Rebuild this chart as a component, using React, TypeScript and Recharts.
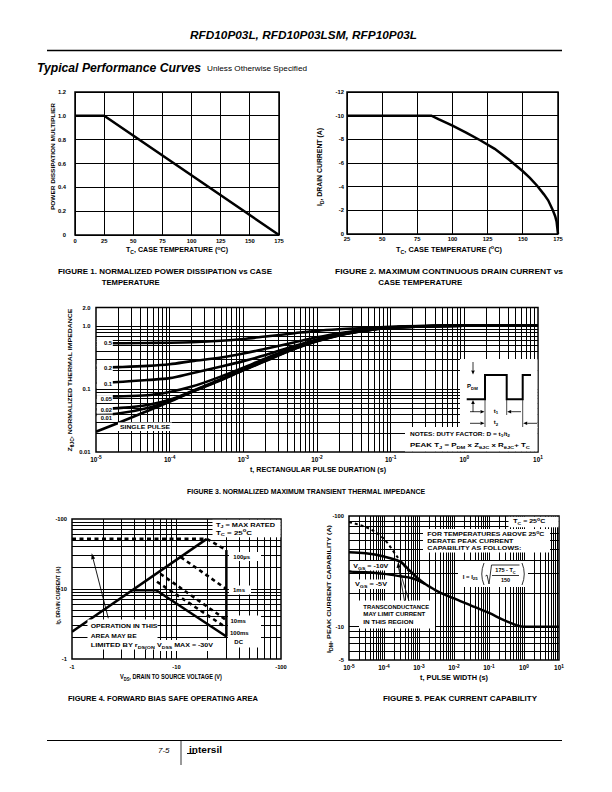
import React from 'react';
import { LineChart, Line, XAxis, YAxis, CartesianGrid, ReferenceLine, ReferenceArea } from 'recharts';

const W = 612;
const H = 792;
const FONT = '"Liberation Sans", Arial, Helvetica, sans-serif';

// ---------------- Figure 1 data ----------------
const fig1Temp = [0, 25, 175];
const fig1Multiplier = [1.0, 1.0, 0.0];
const fig1XTicks = [0, 25, 50, 75, 100, 125, 150, 175];
const fig1YTicks = [0, 0.2, 0.4, 0.6, 0.8, 1.0, 1.2];

// ---------------- Figure 2 data ----------------
const fig2Temp = [25, 85, 90, 100, 110, 120, 130, 140, 150, 155, 160, 165, 168, 171, 173, 174, 175];
const fig2Current = [-10, -10, -9.7, -9.15, -8.55, -7.9, -7.2, -6.3, -5.3, -4.75, -4.1, -3.35, -2.85, -2.1, -1.5, -1.05, 0];
const fig2XTicks = [25, 50, 75, 100, 125, 150, 175];
const fig2YTicks = [-12, -10, -8, -6, -4, -2, 0];

// ---------------- Figure 3 data ----------------
const fig3Time = [1e-5, 2e-5, 5e-5, 1e-4, 2e-4, 5e-4, 1e-3, 2e-3, 5e-3, 1e-2, 2e-2, 5e-2, 1e-1, 1, 10];
const fig3Duty05 = [0.54, 0.54, 0.545, 0.55, 0.56, 0.59, 0.63, 0.69, 0.78, 0.85, 0.9, 0.95, 0.99, 1.03, 1.04];
const fig3Duty02 = [0.22, 0.225, 0.235, 0.25, 0.28, 0.32, 0.37, 0.44, 0.56, 0.67, 0.78, 0.9, 0.97, 1.03, 1.04];
const fig3Duty01 = [0.127, 0.13, 0.14, 0.15, 0.18, 0.23, 0.28, 0.35, 0.49, 0.62, 0.75, 0.89, 0.96, 1.03, 1.04];
const fig3Duty005 = [0.076, 0.077, 0.08, 0.09, 0.11, 0.16, 0.22, 0.31, 0.46, 0.6, 0.74, 0.88, 0.96, 1.03, 1.04];
const fig3Duty002 = [0.048, 0.05, 0.056, 0.068, 0.093, 0.145, 0.205, 0.29, 0.45, 0.59, 0.73, 0.875, 0.96, 1.03, 1.04];
const fig3Duty001 = [0.039, 0.041, 0.05, 0.065, 0.091, 0.142, 0.202, 0.285, 0.445, 0.585, 0.725, 0.87, 0.955, 1.03, 1.04];
const fig3Single = [0.021, 0.029, 0.045, 0.063, 0.09, 0.14, 0.2, 0.28, 0.44, 0.58, 0.72, 0.87, 0.955, 1.03, 1.04];
const fig3XTicks = [1e-5, 1e-4, 1e-3, 1e-2, 1e-1, 1, 10];
const fig3YTicks = [0.01, 0.1, 1, 2];
const fig3YLabels = ['0.01', '0.1', '1.0', '2.0'];

// ---------------- Figure 4 data (magnitudes; axis shows negative values) ----------------
const fig4RdsV = [1, 19.5];
const fig4RdsI = [2.45, 52];
const fig4LimitV = [1, 19.5];
const fig4LimitI = [52, 52];
const fig4Us100V = [19.5, 30];
const fig4Us100I = [52, 36];
const fig4Ms1V = [11, 30];
const fig4Ms1I = [28.5, 10];
const fig4Ms10V = [7, 30];
const fig4Ms10I = [16.5, 3.6];
const fig4Ms100V = [6.5, 30];
const fig4Ms100I = [12.7, 2.8];
const fig4DcV = [3.8, 6.4, 30];
const fig4DcI = [9.6, 9.6, 2.1];
const fig4VdssV = [30, 30];
const fig4VdssI = [36, 2.1];
const fig4Ticks = [1, 10, 100];
const fig4Labels = ['-1', '-10', '-100'];

// ---------------- Figure 5 data (magnitudes) ----------------
const fig5Time10 = [1e-5, 3e-5, 1e-4, 2e-4, 3e-4, 5e-4, 1e-3, 1.5e-3, 2e-3, 3e-3, 1e-2, 3e-2, 1e-1, 3e-1, 1, 10];
const fig5Vgs10 = [47, 46, 43, 40.5, 38.5, 33, 26.8, 24.3, 23, 21.3, 18, 15.6, 13.3, 11.3, 10, 10];
const fig5Time5 = [1e-5, 3e-5, 1e-4, 3e-4, 6e-4, 1e-3, 1.5e-3];
const fig5Vgs5 = [31.5, 31, 30, 28.5, 27.5, 26, 24.3];
const fig5TransTime = [1e-5, 1e-4, 2.5e-4, 6e-4];
const fig5TransI = [88, 62, 42, 30];
const fig5XTicks = [1e-5, 1e-4, 1e-3, 1e-2, 1e-1, 1, 10];
const fig5YTicks = [5, 10, 100];
const fig5YLabels = ['-5', '-10', '-100'];

// ---------------- layout ----------------
type Plot = { l: number; t: number; r: number; b: number };
const P1: Plot = { l: 75, t: 92, r: 279, b: 235 };
const P2: Plot = { l: 347, t: 92, r: 558, b: 234 };
const P3: Plot = { l: 96, t: 307.5, r: 538, b: 452 };
const P4: Plot = { l: 72, t: 519, r: 281, b: 659 };
const P5: Plot = { l: 349, t: 516, r: 559, b: 660 };
const YW = 30;
const XH = 20;
const marginFor = (p: Plot) => ({ top: p.t, left: p.l - YW, right: W - p.r, bottom: H - p.b - XH });
const abs: React.CSSProperties = { position: 'absolute', left: 0, top: 0 };

const logGrid = (lo: number, hi: number) => {
  const out: number[] = [];
  for (let e = lo; e < hi; e++) for (let k = 1; k <= 9; k++) out.push(k * Math.pow(10, e));
  return out;
};
const fig3GridX = logGrid(-5, 1).slice(1);
const fig3GridY = logGrid(-2, 0).slice(1).concat([1]);
const fig4Grid = logGrid(0, 2).slice(1);
const fig5GridX = logGrid(-5, 1).slice(1);
const fig5GridY = [6, 7, 8, 9, 10, 20, 30, 40, 50, 60, 70, 80, 90];

const pts = (xs: number[], ys: number[]) => xs.map((x, i) => ({ x, y: ys[i] }));
const pow10 = (v: number) => `10^{${Math.round(Math.log10(v))}}`;

// ---------------- text helper ----------------
type RichProps = {
  x: number; y: number; s: string; size?: number; anchor?: 'start' | 'middle' | 'end';
  weight?: string | number; len?: number; rot?: number; sx?: number; italic?: boolean;
};
function Rich({ x, y, s, size = 6, anchor = 'start', weight = 'bold', len, rot = 0, sx = 1, italic = false }: RichProps) {
  const parts = s.split(/(_\{[^}]*\}|\^\{[^}]*\})/).filter((p) => p.length > 0);
  let shift = 0;
  const spans = parts.map((p, i) => {
    let target = 0;
    let text = p;
    let fs = size;
    if (p.startsWith('_{')) { target = size * 0.3; text = p.slice(2, -1); fs = size * 0.72; }
    else if (p.startsWith('^{')) { target = -size * 0.4; text = p.slice(2, -1); fs = size * 0.75; }
    const dy = target - shift;
    shift = target;
    return (
      <tspan key={i} dy={dy !== 0 ? dy : undefined} fontSize={fs}>{text}</tspan>
    );
  });
  return (
    <text
      transform={`translate(${x} ${y}) rotate(${rot}) scale(${sx} 1)`}
      x={0}
      y={size * 0.36}
      fontFamily={FONT}
      fontSize={size}
      fontWeight={weight}
      fontStyle={italic ? 'italic' : 'normal'}
      textAnchor={anchor}
      fill="#000"
      textLength={len}
      lengthAdjust={len ? 'spacingAndGlyphs' : undefined}
    >
      {spans}
    </text>
  );
}

const xTick = (yc: number, fmt: (v: number) => string, size = 5.8) => (props: any) => (
  <Rich x={props.x} y={yc} s={fmt(props.payload.value)} size={size} anchor="middle" />
);
const yTick = (xr: number, fmt: (v: number) => string, size = 5.8) => (props: any) => (
  <Rich x={xr} y={props.y} s={fmt(props.payload.value)} size={size} anchor="end" />
);

const lineProps = { stroke: '#000', dot: false as const, activeDot: false as const, isAnimationActive: false, dataKey: 'y' };

// ---------------- Figure 1 ----------------
function Fig1() {
  return (
    <div style={abs} className="crisp">
      <LineChart width={W} height={H} margin={marginFor(P1)}>
        <CartesianGrid stroke="#000" strokeWidth={1} />
        <XAxis type="number" dataKey="x" domain={[0, 175]} ticks={fig1XTicks} interval={0} axisLine={false} tickLine={false} height={XH} tick={xTick(240.5, (v) => String(v))} />
        <YAxis type="number" domain={[0, 1.2]} ticks={fig1YTicks} interval={0} axisLine={false} tickLine={false} width={YW} tick={yTick(66, (v) => (v === 0 ? '0' : v.toFixed(1)))} />
        <ReferenceArea x1={0} x2={175} y1={0} y2={1.2} fill="none" stroke="#000" strokeWidth={1.5} />
        <Line data={pts(fig1Temp, fig1Multiplier)} type="linear" strokeWidth={2.5} {...lineProps} />
      </LineChart>
    </div>
  );
}

// ---------------- Figure 2 ----------------
function Fig2() {
  return (
    <div style={abs} className="crisp">
      <LineChart width={W} height={H} margin={marginFor(P2)}>
        <CartesianGrid stroke="#000" strokeWidth={1} />
        <XAxis type="number" dataKey="x" domain={[25, 175]} ticks={fig2XTicks} interval={0} axisLine={false} tickLine={false} height={XH} tick={xTick(238.5, (v) => String(v))} />
        <YAxis type="number" domain={[-12, 0]} reversed ticks={fig2YTicks} interval={0} axisLine={false} tickLine={false} width={YW} tick={yTick(344, (v) => String(v))} />
        <ReferenceArea x1={25} x2={175} y1={-12} y2={0} fill="none" stroke="#000" strokeWidth={1.5} />
        <Line data={pts(fig2Temp, fig2Current)} type="linear" strokeWidth={2.5} {...lineProps} />
      </LineChart>
    </div>
  );
}

// ---------------- Figure 3 ----------------
const fig3Series = [fig3Duty05, fig3Duty02, fig3Duty01, fig3Duty005, fig3Duty002, fig3Duty001, fig3Single];
function Fig3() {
  return (
    <div style={abs} className="crisp">
      <LineChart width={W} height={H} margin={marginFor(P3)}>
        <XAxis type="number" dataKey="x" scale="log" domain={[1e-5, 10]} allowDataOverflow ticks={fig3XTicks} interval={0} axisLine={false} tickLine={false} height={XH} tick={xTick(459.5, pow10, 6.4)} />
        <YAxis type="number" scale="log" domain={[0.01, 2]} allowDataOverflow ticks={fig3YTicks} interval={0} axisLine={false} tickLine={false} width={YW} tick={yTick(90.5, (v) => fig3YLabels[fig3YTicks.indexOf(v)] ?? String(v))} />
        {fig3GridX.map((v) => (
          <ReferenceLine key={'gx' + v} x={v} stroke="#000" strokeWidth={1} />
        ))}
        {fig3GridY.map((v) => (
          <ReferenceLine key={'gy' + v} y={v} stroke="#000" strokeWidth={1} />
        ))}
        <ReferenceArea x1={1e-5} x2={10} y1={0.01} y2={2} fill="none" stroke="#000" strokeWidth={1.5} />
        {fig3Series.map((s, i) => (
          <Line key={i} data={pts(fig3Time, s)} type="monotone" strokeWidth={2.6} {...lineProps} />
        ))}
      </LineChart>
    </div>
  );
}

// ---------------- Figure 4 ----------------
function Fig4() {
  const solid = [pts(fig4RdsV, fig4RdsI), pts(fig4DcV, fig4DcI), pts(fig4VdssV, fig4VdssI)];
  const dashed = [pts(fig4LimitV, fig4LimitI), pts(fig4Us100V, fig4Us100I), pts(fig4Ms1V, fig4Ms1I), pts(fig4Ms10V, fig4Ms10I), pts(fig4Ms100V, fig4Ms100I)];
  return (
    <div style={abs} className="crisp">
      <LineChart width={W} height={H} margin={marginFor(P4)}>
        <XAxis type="number" dataKey="x" scale="log" domain={[1, 100]} allowDataOverflow ticks={fig4Ticks} interval={0} axisLine={false} tickLine={false} height={XH} tick={xTick(666.5, (v) => fig4Labels[fig4Ticks.indexOf(v)])} />
        <YAxis type="number" scale="log" domain={[1, 100]} allowDataOverflow ticks={fig4Ticks} interval={0} axisLine={false} tickLine={false} width={YW} tick={yTick(67, (v) => fig4Labels[fig4Ticks.indexOf(v)])} />
        {fig4Grid.map((v) => (
          <ReferenceLine key={'gx' + v} x={v} stroke="#000" strokeWidth={1} />
        ))}
        {fig4Grid.map((v) => (
          <ReferenceLine key={'gy' + v} y={v} stroke="#000" strokeWidth={1} />
        ))}
        <ReferenceArea x1={1} x2={100} y1={1} y2={100} fill="none" stroke="#000" strokeWidth={1.5} />
        {dashed.map((d, i) => (
          <Line key={'d' + i} data={d} type="linear" strokeWidth={2.6} strokeDasharray="4 3.5" {...lineProps} />
        ))}
        {solid.map((d, i) => (
          <Line key={'s' + i} data={d} type="linear" strokeWidth={2.5} {...lineProps} />
        ))}
      </LineChart>
    </div>
  );
}

// ---------------- Figure 5 ----------------
function Fig5() {
  return (
    <div style={abs} className="crisp">
      <LineChart width={W} height={H} margin={marginFor(P5)}>
        <XAxis type="number" dataKey="x" scale="log" domain={[1e-5, 10]} allowDataOverflow ticks={fig5XTicks} interval={0} axisLine={false} tickLine={false} height={XH} tick={xTick(668, pow10, 6.4)} />
        <YAxis type="number" scale="log" domain={[5, 100]} allowDataOverflow ticks={fig5YTicks} interval={0} axisLine={false} tickLine={false} width={YW} tick={yTick(344, (v) => fig5YLabels[fig5YTicks.indexOf(v)])} />
        {fig5GridX.map((v) => (
          <ReferenceLine key={'gx' + v} x={v} stroke="#000" strokeWidth={1} />
        ))}
        {fig5GridY.map((v) => (
          <ReferenceLine key={'gy' + v} y={v} stroke="#000" strokeWidth={1} />
        ))}
        <ReferenceArea x1={1e-5} x2={10} y1={5} y2={100} fill="none" stroke="#000" strokeWidth={1.5} />
        <Line data={pts(fig5TransTime, fig5TransI)} type="monotone" strokeWidth={2} strokeDasharray="3 3" {...lineProps} />
        <Line data={pts(fig5Time5, fig5Vgs5)} type="monotone" strokeWidth={2.5} {...lineProps} />
        <Line data={pts(fig5Time10, fig5Vgs10)} type="monotone" strokeWidth={2.5} {...lineProps} />
      </LineChart>
    </div>
  );
}

// ---------------- annotations ----------------
function Arrow({ x1, y1, x2, y2, w = 0.8, hl = 4, hw = 1.8 }: { x1: number; y1: number; x2: number; y2: number; w?: number; hl?: number; hw?: number }) {
  const dx = x2 - x1;
  const dy = y2 - y1;
  const L = Math.hypot(dx, dy);
  const ux = dx / L;
  const uy = dy / L;
  const bx = x2 - ux * hl;
  const by = y2 - uy * hl;
  const poly = `${x2},${y2} ${bx - uy * hw},${by + ux * hw} ${bx + uy * hw},${by - ux * hw}`;
  return (
    <g>
      <line x1={x1} y1={y1} x2={bx} y2={by} stroke="#000" strokeWidth={w} />
      <polygon points={poly} fill="#000" />
    </g>
  );
}

const Box = ({ x, y, w, h }: { x: number; y: number; w: number; h: number }) => (
  <rect x={x} y={y} width={w} height={h} fill="#fff" />
);

function Overlay() {
  return (
    <svg width={W} height={H} style={{ position: 'absolute', left: 0, top: 0 }}>
      {/* header */}
      <Rich x={190} y={35} s="RFD10P03L, RFD10P03LSM, RFP10P03L" size={11.5} italic len={227} />
      <line x1={47} y1={50.5} x2={562} y2={50.5} stroke="#000" strokeWidth={1.3} />
      <Rich x={37} y={68} s="Typical Performance Curves" size={12} italic len={164} />
      <Rich x={207} y={68.5} s="Unless Otherwise Specified" size={6.5} weight="normal" len={100} />

      {/* Figure 1 texts */}
      <Rich x={52.5} y={156.5} s="POWER DISSIPATION MULTIPLIER" size={6.2} rot={-90} anchor="middle" len={107} />
      <Rich x={126} y={250} s="T_{C}, CASE TEMPERATURE (^{o}C)" size={6.5} len={102} />
      <Rich x={58} y={271} s="FIGURE 1.  NORMALIZED POWER DISSIPATION vs CASE" size={8} len={214} />
      <Rich x={101.7} y={281.7} s="TEMPERATURE" size={8} len={58} />

      {/* Figure 2 texts */}
      <Rich x={320} y={167} s="I_{D}, DRAIN CURRENT (A)" size={6.5} rot={-90} anchor="middle" len={78} />
      <Rich x={396} y={249.5} s="T_{C}, CASE TEMPERATURE (^{o}C)" size={6.5} len={106} />
      <Rich x={335} y={271} s="FIGURE 2.  MAXIMUM CONTINUOUS DRAIN CURRENT vs" size={8} len={228} />
      <Rich x={378.3} y={281.7} s="CASE TEMPERATURE" size={8} len={84} />

      {/* Figure 3 labels */}
      {[
        ['0.5', 343], ['0.2', 367.7], ['0.1', 384.3], ['0.05', 398.7], ['0.02', 410], ['0.01', 418.3],
      ].map(([t, y]) => (
        <g key={t as string}>
          <Box x={96.8} y={(y as number) - 3.6} w={16} h={7.2} />
          <Rich x={112} y={y as number} s={t as string} size={5.8} anchor="end" />
        </g>
      ))}
      <Box x={118} y={422.5} w={54} h={8.5} />
      <Rich x={120} y={426.7} s="SINGLE PULSE" size={6} len={50} />
      {/* inset */}
      <Box x={460} y={359} w={77.5} h={69} />
      <Box x={405} y={427} w={132.5} h={24.5} />
      <path d="M466.7,399.3 H485 V375 H506.7 V399.3 H522.7 V375 H531" fill="none" stroke="#000" strokeWidth={2} />
      <line x1={485} y1={399} x2={485} y2={427} stroke="#000" strokeWidth={0.7} />
      <line x1={506.7} y1={399} x2={506.7} y2={415} stroke="#000" strokeWidth={0.7} />
      <line x1={522.7} y1={399} x2={522.7} y2={427} stroke="#000" strokeWidth={0.7} />
      <Arrow x1={473} y1={362} x2={473} y2={374.5} />
      <Arrow x1={473} y1={412} x2={473} y2={400} />
      <Rich x={467} y={386} s="P_{DM}" size={6} />
      <Arrow x1={470} y1={411.7} x2={484.5} y2={411.7} />
      <Arrow x1={521} y1={411.7} x2={507.2} y2={411.7} />
      <Rich x={496} y={410.5} s="t_{1}" size={6} anchor="middle" />
      <Arrow x1={470} y1={423.3} x2={484.5} y2={423.3} />
      <Arrow x1={537} y1={423.3} x2={523.2} y2={423.3} />
      <Rich x={496} y={422} s="t_{2}" size={6} anchor="middle" />
      <Rich x={410} y={433.5} s="NOTES: DUTY FACTOR: D = t_{1}/t_{2}" size={6} len={100} />
      <Rich x={410} y={445} s="PEAK T_{J} = P_{DM} x Z_{θJC} x R_{θJC}+ T_{C}" size={6} len={120} />
      <Rich x={70} y={380} s="Z_{θJC}, NORMALIZED THERMAL IMPEDANCE" size={6.2} rot={-90} anchor="middle" len={143} />
      <Rich x={250} y={470} s="t, RECTANGULAR PULSE DURATION (s)" size={6.5} len={136} />
      <Rich x={187} y={491} s="FIGURE 3.  NORMALIZED MAXIMUM TRANSIENT THERMAL IMPEDANCE" size={8} len={238} />

      {/* Figure 4 annotations */}
      <Box x={212.5} y={519.8} w={68} h={17.5} />
      <Rich x={216} y={524.5} s="T_{J} = MAX RATED" size={6} len={59} />
      <Rich x={216} y={532.5} s="T_{C} = 25^{o}C" size={6} len={36} />
      <Box x={229} y={552} w={32} h={9} />
      <Rich x={233.3} y={556.7} s="100µs" size={6} />
      <Box x={229} y={585.5} w={22} h={9} />
      <Rich x={233} y={590} s="1ms" size={6} />
      <Box x={228} y={615.5} w={33} h={32} />
      <Rich x={230.5} y={621} s="10ms" size={6} />
      <Rich x={230} y={633.3} s="100ms" size={6} />
      <Rich x={234.3} y={642.3} s="DC" size={6} />
      <Box x={87.5} y={619.5} w={70} h={30} />
      <Rich x={90.7} y={625.7} s="OPERATION IN THIS" size={6} len={66.7} />
      <Rich x={90.7} y={635.7} s="AREA MAY BE" size={6} len={46} />
      <Rich x={90.7} y={645.3} s="LIMITED BY r_{DS(ON)}" size={6} len={66} />
      <Box x={155} y={640} w={60} h={11} />
      <Rich x={157} y={645} s="V_{DSS} MAX = -30V" size={6} len={56} />
      <Arrow x1={108.3} y1={618.3} x2={91.7} y2={553.3} w={0.9} hl={6} hw={2} />
      <Rich x={57.3} y={595.5} s="I_{D}, DRAIN CURRENT (A)" size={6.2} rot={-90} anchor="middle" len={58} />
      <Rich x={120} y={676.7} s="V_{DS}, DRAIN TO SOURCE VOLTAGE (V)" size={6.5} len={102} />
      <Rich x={68} y={697.7} s="FIGURE 4.  FORWARD BIAS SAFE OPERATING AREA" size={8} len={190} />

      {/* Figure 5 annotations */}
      <Box x={508.5} y={516.8} w={50} h={10.5} />
      <Rich x={513.3} y={521} s="T_{C} = 25^{o}C" size={6} len={32} />
      <Box x={423} y={529} w={127} h={23.5} />
      <Rich x={427.3} y={534.3} s="FOR TEMPERATURES ABOVE 25^{o}C" size={6} len={117} />
      <Rich x={427.3} y={541} s="DERATE PEAK CURRENT" size={6} len={86} />
      <Rich x={427.3} y={547.7} s="CAPABILITY AS FOLLOWS:" size={6} len={94} />
      <Box x={458} y={561} w={70} h={26} />
      <Rich x={462.7} y={576.5} s="I  =  I_{25}" size={6} />
      <path d="M484,563 Q479.5,574 484,585" fill="none" stroke="#000" strokeWidth={0.8} />
      <path d="M522,563 Q526.5,574 522,585" fill="none" stroke="#000" strokeWidth={0.8} />
      <polyline points="485.5,576 487,575 489,584 491.5,565 519.5,565" fill="none" stroke="#000" strokeWidth={0.8} />
      <Rich x={505.5} y={570.5} s="175 - T_{C}" size={5.5} anchor="middle" />
      <line x1={492} y1={575.5} x2={519} y2={575.5} stroke="#000" strokeWidth={0.8} />
      <Rich x={505.5} y={580.5} s="150" size={5.5} anchor="middle" />
      <Box x={351.5} y={561} w={38} h={9.5} />
      <Rich x={353.3} y={565.7} s="V_{GS} = -10V" size={6} len={35} />
      <Box x={353} y={579.5} w={35} h={9.5} />
      <Rich x={355} y={584.3} s="V_{GS} = -5V" size={6} len={32} />
      <Box x={359} y={600.5} w={76} h={28} />
      <Rich x={363.3} y={606.7} s="TRANSCONDUCTANCE" size={6} len={66} />
      <Rich x={363.3} y={614.3} s="MAY LIMIT CURRENT" size={6} len={62} />
      <Rich x={363.3} y={622.3} s="IN THIS REGION" size={6} len={50} />
      <line x1={398.3} y1={566} x2={404.5} y2={601} stroke="#000" strokeWidth={0.8} />
      <line x1={398.3} y1={566} x2={409} y2={601} stroke="#000" strokeWidth={0.8} />
      <polygon points="398.3,561.5 396.5,568 400.5,567.5" fill="#000" />
      <Rich x={328.5} y={589} s="I_{DM}, PEAK CURRENT CAPABILITY (A)" size={6.2} rot={-90} anchor="middle" len={128} />
      <Rich x={420} y={677.3} s="t, PULSE WIDTH (s)" size={6.5} len={68} />
      <Rich x={383} y={697.7} s="FIGURE 5.  PEAK CURRENT CAPABILITY" size={8} len={154} />

      {/* footer */}
      <line x1={47} y1={740.5} x2={562} y2={740.5} stroke="#000" strokeWidth={1} />
      <Rich x={158} y={750} s="7-5" size={8} weight="normal" italic />
      <line x1={181} y1={741} x2={181} y2={765} stroke="#000" strokeWidth={0.8} />
      <line x1={187} y1={753.5} x2={196} y2={753.5} stroke="#000" strokeWidth={1} />
      <Rich x={189} y={750} s="intersil" size={8.5} len={33} />
    </svg>
  );
}

export default function App() {
  return (
    <div style={{ position: 'absolute', left: 0, top: 0, width: W, height: H, background: '#fff', overflow: 'hidden' }}>
      <style>{`.crisp .recharts-reference-line line, .crisp .recharts-cartesian-grid line { shape-rendering: crispEdges; }`}</style>
      <Fig1 />
      <Fig2 />
      <Fig3 />
      <Fig4 />
      <Fig5 />
      <Overlay />
    </div>
  );
}
